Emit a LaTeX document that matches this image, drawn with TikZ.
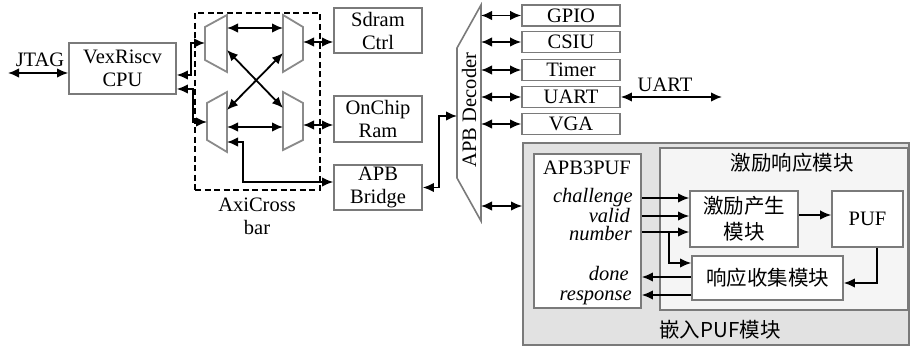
\documentclass[tikz,border=0pt]{standalone}
\usepackage{fontspec}
\setmainfont{Liberation Serif}
\newfontfamily\cjk{Noto Sans CJK SC}
\usetikzlibrary{arrows.meta}
\definecolor{edgegray}{HTML}{7A7A7A}
\definecolor{muxgray}{HTML}{8A8A8A}
\definecolor{outerfill}{HTML}{E2E2E2}
\definecolor{innerfill}{HTML}{F5F5F5}
\newcommand\latinsz{\fontsize{20.5pt}{23pt}\selectfont}
\newcommand\cjksz{\cjk\fontsize{20.5pt}{26pt}\selectfont}
\begin{document}
\begin{tikzpicture}[x=1pt,y=-1pt,
  blk/.style={draw=edgegray,line width=1.6pt,inner sep=0pt,align=center,font=\latinsz,fill=white},
  pbox/.style={draw=edgegray,line width=1.6pt,inner sep=0pt,font=\latinsz,fill=white,minimum width=98pt,minimum height=21pt},
  mux/.style={draw=muxgray,line width=1.8pt,line join=miter},
  tip/.tip={Latex[length=11pt,width=9.5pt]},
  ar/.style={line width=1.8pt,-tip},
  dar/.style={line width=1.8pt,tip-tip},
  lbl/.style={font=\latinsz,inner sep=0pt},
  sig/.style={font=\latinsz\itshape,inner sep=0pt,anchor=base east},
  zh/.style={font=\cjksz,inner sep=0pt,align=center},
]
\useasboundingbox (0,0) rectangle (910,347);

% ---- CPU and debug port ----
\node[blk,minimum width=107pt,minimum height=51pt] (cpu) at (122.5,68.5) {VexRiscv\\CPU};
\node[lbl] (jtag) at (40,60) {JTAG};
\coordinate (jtagend) at (8,73);
\draw[dar] (jtagend) -- (jtagend -| cpu.west);

% ---- AXI crossbar ----
\node[draw,line width=2pt,dash pattern=on 6pt off 3.5pt,minimum width=125pt,minimum height=177pt,inner sep=0pt] (xbar) at (257.5,101.5) {};
\node[lbl,align=center] (xbarlbl) at (257,216) {AxiCross\\bar};

\draw[mux] (205,27) -- (227,15) -- (227,72) -- (205,60) -- cycle;
\draw[mux] (283,15) -- (303,27) -- (303,60) -- (283,72) -- cycle;
\draw[mux] (207,103) -- (227,92) -- (227,152) -- (207,140) -- cycle;
\draw[mux] (283,92) -- (303,103) -- (303,140) -- (283,150) -- cycle;

\coordinate (tlIn) at (205,43);
\coordinate (blIn) at (207,122);
\coordinate (tlA) at (227,28);  \coordinate (trA) at (283,28);
\coordinate (tlX) at (227,50);  \coordinate (brX) at (283,108);
\coordinate (blX) at (227,110); \coordinate (trX) at (283,53);
\coordinate (blA) at (227,127); \coordinate (brA) at (283,127);
\coordinate (trOut) at (303,42);
\coordinate (brOut) at (303,125);
\coordinate (blOut) at (227,142);

\draw[dar] (tlA) -- (trA);
\draw[dar] (blA) -- (brA);
\draw[dar] (tlX) -- (brX);
\draw[dar] (blX) -- (trX);
\draw[dar] ([yshift=-6.5pt]cpu.east) -- ++(14,0) |- (tlIn);
\draw[dar] ([yshift=-20.5pt]cpu.east) -- ++(16,0) |- (blIn);

% ---- memory and bridge ----
\node[blk,minimum width=88pt,minimum height=45pt] (sdram) at (378,30.5) {Sdram\\Ctrl};
\node[blk,minimum width=88pt,minimum height=46pt] (ram) at (378,119) {OnChip\\Ram};
\node[blk,minimum width=88pt,minimum height=45pt] (bridge) at (378,187.5) {APB\\Bridge};

\draw[dar] (trOut) -- (trOut -| sdram.west);
\draw[dar] (brOut) -- (brOut -| ram.west);
\draw[dar] (blOut) -- ++(16,0) |- ([yshift=5.5pt]bridge.west);

% ---- APB decoder ----
\draw[mux,draw=edgegray,line width=1.6pt] (457,48) -- (481,5) -- (481,221) -- (457,178) -- cycle;
\node[lbl,rotate=90] (dectext) at (469,110) {APB Decoder};
\coordinate (decIn) at (457,116);
\coordinate (decR) at (481,0);
\draw[dar] (bridge.east) -- ++(16,0) |- (decIn);

% ---- APB peripherals ----
\node[pbox] (gpio)  at (571,15.5) {GPIO};
\node[pbox] (csiu)  at (571,42)   {CSIU};
\node[pbox] (timer) at (571,70)   {Timer};
\node[pbox] (uart)  at (571,97)   {UART};
\node[pbox] (vga)   at (571,124)  {VGA};
\foreach \n in {gpio,csiu,timer,uart,vga}
  \draw[dar] (\n.west -| decR) -- (\n.west);

\coordinate (uartend) at (722,97);
\draw[dar] (uart.east) -- (uartend);
\node[lbl] (uartlbl) at (665,85) {UART};

% ---- embedded PUF module ----
\node[draw=edgegray,line width=1.6pt,fill=outerfill,minimum width=386pt,minimum height=202pt,inner sep=0pt] (outer) at (716,244) {};
\node[zh] (outerlbl) at (720,330) {嵌入\latinsz PUF\cjksz 模块};
\coordinate (decP) at (481,206);
\draw[dar] (decP) -- (decP -| outer.west);

\node[draw=edgegray,line width=1.6pt,fill=innerfill,minimum width=248pt,minimum height=162pt,inner sep=0pt] (kr) at (784,229) {};
\node[zh] (krlbl) at (792,163) {激励响应模块};

\node[blk,minimum width=107pt,minimum height=154pt] (apb) at (587.5,231) {};
\node[lbl] (apblbl) at (587,168) {APB3PUF};
\node[sig] (lch) at (633,203) {challenge};
\node[sig] (lva) at (630,222.5) {valid};
\node[sig] (lnu) at (632,241) {number};
\node[sig] (ldo) at (629,281) {done};
\node[sig] (lre) at (632,300.5) {response};

\node[blk,font=\cjksz,minimum width=108pt,minimum height=56pt] (gen) at (744,219) {激励产生\\模块};
\node[blk,minimum width=71pt,minimum height=56pt] (puf) at (867.5,219) {PUF};
\node[blk,font=\cjksz,minimum width=151pt,minimum height=44pt] (col) at (767.5,278) {响应收集模块};

\coordinate (pch) at (641,198);
\coordinate (pva) at (641,216);
\coordinate (pnu) at (641,232);
\coordinate (nbr) at (669,232);
\coordinate (pdo) at (641,277);
\coordinate (pre) at (641,295);

\draw[ar] (pch -| apb.east) -- (pch -| gen.west);
\draw[ar] (pva -| apb.east) -- (pva -| gen.west);
\draw[ar] (pnu -| apb.east) -- (pnu -| gen.west);
\draw[ar] (nbr) |- ([yshift=15pt]col.west);
\draw[ar] (pdo -| col.west) -- (pdo -| apb.east);
\draw[ar] (pre -| col.west) -- (pre -| apb.east);
\draw[ar] ([yshift=4pt]gen.east) -- ([yshift=4pt]puf.west);
\draw[ar] ([xshift=9.5pt]puf.south) |- ([yshift=-5pt]col.east);
\end{tikzpicture}
\end{document}
